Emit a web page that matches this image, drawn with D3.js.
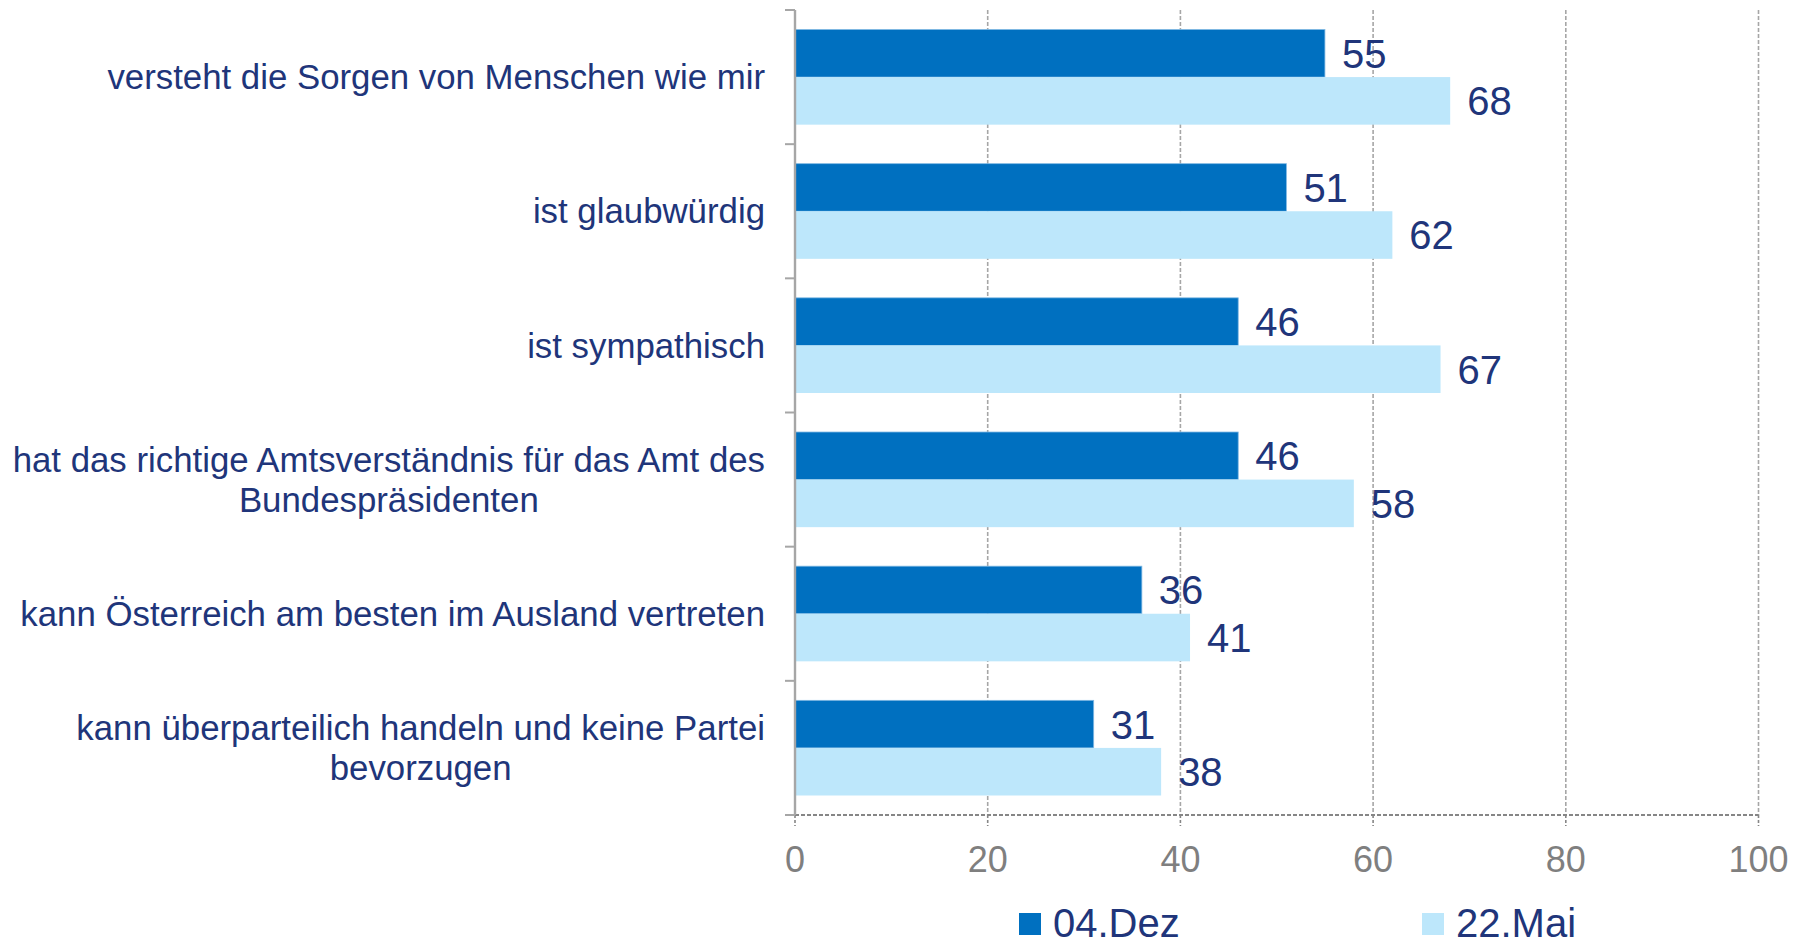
<!DOCTYPE html>
<html>
<head>
    <meta charset="utf-8">
    <title></title>
    <script src="https://d3js.org/d3.v7.min.js"></script>
    <style>
        body { margin: 0; background: #fff; }
        svg { display: block; font-family: 'Liberation Sans', Arial, sans-serif; }
    </style>
</head>
<body>
    <svg width="1806" height="947" id="svg1"></svg>
</body>
<script>
var categories = [
    "versteht die Sorgen von Menschen wie mir",
    "ist glaubwürdig",
    "ist sympathisch",
    "hat das richtige Amtsverständnis für das Amt des\nBundespräsidenten",
    "kann Österreich am besten im Ausland vertreten",
    "kann überparteilich handeln und keine Partei\nbevorzugen"
];
var seriesNames = ["04.Dez", "22.Mai"];
var dez = [55, 51, 46, 46, 36, 31];
var mai = [68, 62, 67, 58, 41, 38];
var tickValues = [0, 20, 40, 60, 80, 100];

var colors = {"04.Dez": "#0070c0", "22.Mai": "#bde7fb"};
var navy = "#20357a";

var svg = d3.select("#svg1");

var x = d3.scaleLinear().domain([0, 100]).range([795, 1758.5]);
var y = d3.scaleBand().domain(categories).range([10, 815]);
var y1 = d3.scaleBand().domain(seriesNames).range([0, y.bandwidth()]).paddingInner(0).paddingOuter(0.41);

var data = categories.map(function(c, i){
    return {cat: c, values: [{key: "04.Dez", value: dez[i]}, {key: "22.Mai", value: mai[i]}]};
});

// vertical dashed grid
svg.append("g")
    .selectAll("line")
    .data(tickValues.slice(1))
    .enter()
    .append("line")
    .attr("x1", function(d){ return x(d) })
    .attr("x2", function(d){ return x(d) })
    .attr("y1", 10)
    .attr("y2", 815)
    .attr("stroke", "#a6a6a6")
    .attr("stroke-width", 1.6)
    .attr("stroke-dasharray", "4,2");

// bars
var groups = svg.selectAll(".bar-box")
    .data(data)
    .enter()
    .append("g")
    .attr("class", "bar-box")
    .attr("transform", function(d){ return "translate(0," + y(d.cat) + ")" });

groups.selectAll("rect")
    .data(function(d){ return d.values })
    .enter()
    .append("rect")
    .attr("x", x(0))
    .attr("y", function(d){ return y1(d.key) })
    .attr("width", function(d){ return x(d.value) - x(0) })
    .attr("height", y1.bandwidth())
    .attr("fill", function(d){ return colors[d.key] })
    .attr("stroke", function(d){ return d.key == "04.Dez" ? "#7fb8e3" : "none" })
    .attr("stroke-width", 0.8);

groups.selectAll(".val")
    .data(function(d){ return d.values })
    .enter()
    .append("text")
    .attr("class", "val")
    .attr("x", function(d){ return x(d.value) + 17 })
    .attr("y", function(d){ return y1(d.key) + y1.bandwidth() / 2 })
    .attr("dy", "0.36em")
    .attr("font-size", "40px")
    .attr("fill", navy)
    .text(function(d){ return d.value });

// bottom axis (dashed)
var xAxis = svg.append("g").attr("transform", "translate(0,815)");
xAxis.append("line")
    .attr("x1", x(0)).attr("x2", x(100))
    .attr("y1", 0).attr("y2", 0)
    .attr("stroke", "#868686")
    .attr("stroke-width", 2)
    .attr("stroke-dasharray", "4,2");
xAxis.selectAll(".tk")
    .data(tickValues)
    .enter()
    .append("line")
    .attr("class", "tk")
    .attr("x1", function(d){ return x(d) }).attr("x2", function(d){ return x(d) })
    .attr("y1", 0).attr("y2", 11)
    .attr("stroke", "#868686")
    .attr("stroke-width", 1.6)
    .attr("stroke-dasharray", "3,2");
xAxis.selectAll(".lbl")
    .data(tickValues)
    .enter()
    .append("text")
    .attr("class", "lbl")
    .attr("x", function(d){ return x(d) })
    .attr("y", 57)
    .attr("text-anchor", "middle")
    .attr("font-size", "36px")
    .attr("fill", "#7f7f7f")
    .text(function(d){ return d });

// left axis (solid)
var yAxis = svg.append("g");
yAxis.append("line")
    .attr("x1", x(0)).attr("x2", x(0))
    .attr("y1", 10).attr("y2", 815)
    .attr("stroke", "#a6a6a6")
    .attr("stroke-width", 2.4);
yAxis.selectAll(".tk")
    .data(categories.concat(["end"]))
    .enter()
    .append("line")
    .attr("class", "tk")
    .attr("x1", x(0) - 10).attr("x2", x(0))
    .attr("y1", function(d, i){ return 10 + i * y.step() })
    .attr("y2", function(d, i){ return 10 + i * y.step() })
    .attr("stroke", "#a6a6a6")
    .attr("stroke-width", 2);

// category labels: block right-aligned, lines centered
var labelRight = 765;
var lineH = 40;
categories.forEach(function(c){
    var lines = c.split("\n");
    var g = yAxis.append("g");
    var cy = y(c) + y.bandwidth() / 2;
    var texts = g.selectAll("text")
        .data(lines)
        .enter()
        .append("text")
        .attr("y", function(d, i){ return cy + (i - (lines.length - 1) / 2) * lineH })
        .attr("dy", "0.35em")
        .attr("text-anchor", "middle")
        .attr("font-size", "34.8px")
        .attr("fill", navy)
        .text(function(d){ return d });
    var maxW = d3.max(texts.nodes(), function(n){ return n.getComputedTextLength() });
    texts.attr("x", labelRight - maxW / 2);
});

// legend
var legend = svg.append("g")
    .selectAll("g")
    .data(seriesNames)
    .enter()
    .append("g")
    .attr("transform", function(d, i){ return "translate(" + [1019, 1422][i] + ",913)" });

legend.append("rect")
    .attr("width", 22)
    .attr("height", 22)
    .attr("fill", function(d){ return colors[d] });

legend.append("text")
    .attr("x", 34)
    .attr("y", 24)
    .attr("font-size", "40px")
    .attr("fill", navy)
    .text(function(d){ return d });
</script>
</html>
